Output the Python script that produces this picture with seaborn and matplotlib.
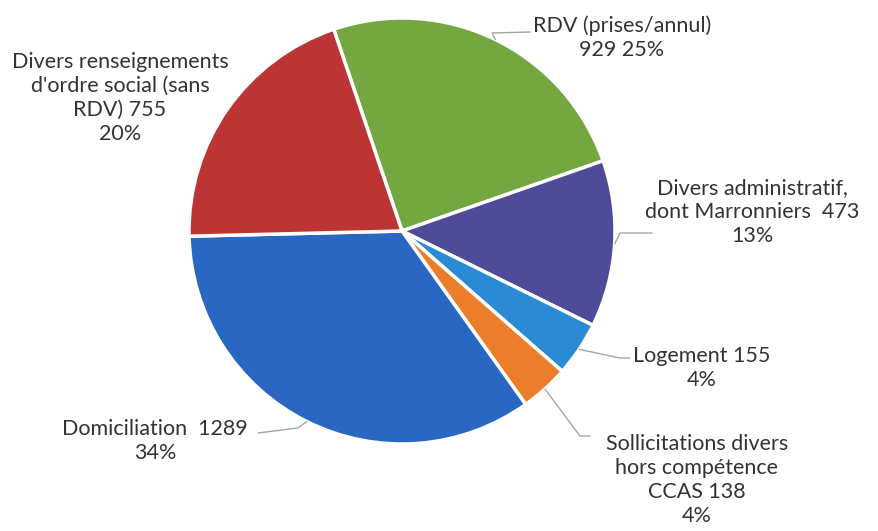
import numpy as np
import matplotlib.pyplot as plt
import seaborn as sns

# slices, clockwise from the top-left edge of the green wedge
categories = ["RDV", "Divers administratif", "Logement", "Sollicitations",
              "Domiciliation", "Divers renseignements"]
values = [929, 473, 155, 138, 1289, 755]
label_templates = [
    "RDV (prises/annul)\n{v} {p}%",
    "Divers administratif,\ndont Marronniers  {v}\n{p}%",
    "Logement {v}\n{p}%",
    "Sollicitations divers\nhors compétence\nCCAS {v}\n{p}%",
    "Domiciliation  {v}\n{p}%",
    "Divers renseignements\nd'ordre social (sans\nRDV) {v}\n{p}%",
]
colors = ["#74a73f", "#4e4b98", "#2a8bd4", "#ec7d2b", "#2a67c2", "#bd3434"]

W, H = 879, 531
CX, CY, R = 402, 231, 213  # pie centre / radius in pixels (y from top)


def px(x, y):
    return x, H - y


# label layout in pixels: text centre, leader knee and leader end (None = no leader)
label_pos = [
    dict(xy=(622, 38), knee=(492, 33), end=(530, 32)),
    dict(xy=(752, 212), knee=(620, 233), end=(652, 233)),
    dict(xy=(702, 368), knee=(620, 358), end=(630, 358)),
    dict(xy=(697, 480), knee=(580, 436), end=(590, 436)),
    dict(xy=(155, 441), knee=(298, 428), end=(258, 433)),
    dict(xy=(120, 98), knee=None, end=None),
]

sns.set_theme(style="white")
plt.rcParams["font.family"] = ["Lato", "DejaVu Sans"]

fig = plt.figure(figsize=(W / 100, H / 100), dpi=100)
ax = fig.add_axes([0, 0, 1, 1])

wedges, _ = ax.pie(values, colors=colors, startangle=108.7, counterclock=False,
                   center=px(CX, CY), radius=R,
                   wedgeprops=dict(edgecolor="white", linewidth=2.5))
ax.set_xlim(0, W)
ax.set_ylim(0, H)
ax.axis("off")

total = sum(values)
for w, v, tmpl, lp in zip(wedges, values, label_templates, label_pos):
    pct = round(100 * v / total)
    text = tmpl.format(v=v, p=pct)
    ax.text(*px(*lp["xy"]), text, ha="center", va="center", fontsize=15.5,
            color="#333333", linespacing=1.27)
    if lp["knee"] is None:
        continue
    mid = np.deg2rad((w.theta1 + w.theta2) / 2)
    edge = (CX + R * np.cos(mid), H - CY + R * np.sin(mid))
    kx, ky = px(*lp["knee"])
    ex, ey = px(*lp["end"])
    ax.plot([edge[0], kx, ex], [edge[1], ky, ey], color="#a6a6a6", lw=1)

fig.savefig("out.png", dpi=100)
